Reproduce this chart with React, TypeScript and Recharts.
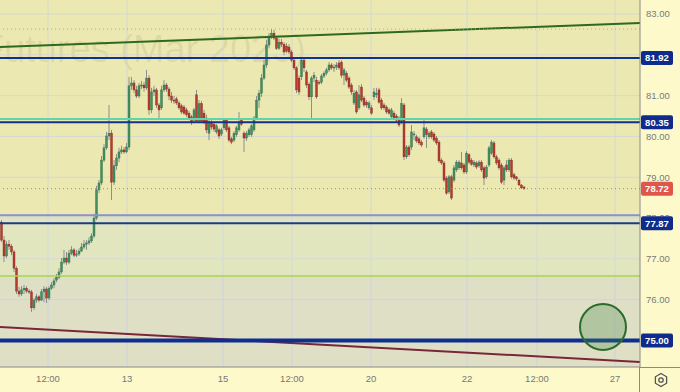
import React from 'react';
import {
  ComposedChart,
  Bar,
  XAxis,
  YAxis,
  CartesianGrid,
  ReferenceLine,
  ReferenceArea,
  ReferenceDot,
} from 'recharts';

// ---- candle data (hourly bars) ----
const opens = [
  77.90, 77.46, 77.07, 77.36, 77.31, 77.17, 76.77, 76.21, 76.14, 76.24,
  76.28, 76.21, 76.19, 75.80, 75.99, 76.07, 75.99, 76.19, 76.26, 76.04,
  76.28, 76.36, 76.48, 76.55, 76.68, 76.92, 77.02, 76.92, 77.14, 77.22,
  77.09, 77.12, 77.19, 77.29, 77.36, 77.39, 77.44, 77.56, 78.00, 78.69,
  78.86, 79.42, 79.72, 80.01, 80.08, 78.88, 79.28, 79.47, 79.62, 79.67,
  79.62, 79.74, 81.24, 81.31, 81.14, 80.99, 81.24, 81.26, 81.19, 81.43,
  80.65, 81.09, 81.14, 80.77, 80.70, 81.14, 81.26, 81.16, 80.99, 80.89,
  80.92, 80.82, 80.75, 80.72, 80.65, 80.57, 80.48, 80.40, 81.02, 80.38,
  80.80, 80.57, 80.45, 80.08, 80.35, 80.30, 80.11, 80.16, 80.06, 80.21,
  80.40, 80.21, 79.94, 79.91, 80.04, 80.16, 80.40, 80.08, 79.96, 80.04,
  80.04, 80.16, 80.45, 80.89, 81.06, 81.43, 81.75, 82.24, 82.44, 82.53,
  82.41, 82.16, 82.31, 82.26, 82.21, 82.19, 82.07, 81.87, 81.68, 81.43,
  81.46, 81.87, 81.58, 81.28, 80.97, 81.43, 81.38, 81.33, 81.33, 81.48,
  81.55, 81.63, 81.75, 81.68, 81.70, 81.80, 81.82, 81.50, 81.55, 81.43,
  81.26, 80.82, 81.09, 80.70, 81.21, 80.94, 80.84, 80.70, 80.70, 80.97,
  81.02, 81.14, 80.89, 80.77, 80.72, 80.65, 80.48, 80.57, 80.50, 80.45,
  80.35, 80.77, 79.50, 79.74, 79.74, 80.04, 79.99, 79.94, 79.86, 79.99,
  80.18, 79.99, 80.11, 80.06, 79.96, 79.86, 79.42, 79.35, 78.98, 78.64,
  79.01, 78.93, 79.18, 79.23, 79.35, 79.30, 79.13, 79.55, 79.42, 79.30,
  79.35, 79.28, 79.37, 79.23, 79.01, 79.30, 79.59, 79.84, 79.50, 79.42,
  79.30, 78.93, 79.30, 79.18, 79.42, 79.06, 79.01, 78.93, 78.81, 78.76,
];
const highs = [
  77.95, 77.56, 77.44, 77.46, 77.36, 77.22, 76.82, 76.31, 76.33, 76.36,
  76.33, 76.26, 76.24, 76.04, 76.14, 76.11, 76.26, 76.33, 76.31, 76.33,
  76.43, 76.53, 76.63, 76.77, 77.02, 77.22, 77.17, 77.22, 77.31, 77.26,
  77.22, 77.26, 77.39, 77.46, 77.46, 77.53, 77.63, 78.10, 78.79, 78.93,
  79.52, 79.81, 80.11, 80.77, 80.16, 79.42, 79.57, 79.72, 79.77, 79.74,
  79.84, 81.46, 81.46, 81.38, 81.24, 81.31, 81.36, 81.33, 81.63, 81.50,
  81.19, 81.24, 81.19, 80.82, 81.24, 81.38, 81.31, 81.21, 81.09, 80.99,
  80.97, 80.87, 80.80, 80.77, 80.70, 80.62, 80.53, 80.70, 81.14, 80.89,
  80.87, 80.65, 80.53, 80.40, 80.40, 80.35, 80.30, 80.21, 80.21, 80.45,
  80.45, 80.26, 79.99, 80.13, 80.26, 80.60, 80.45, 80.13, 80.13, 80.21,
  80.30, 80.50, 80.99, 81.14, 81.53, 81.87, 82.36, 82.53, 82.63, 82.61,
  82.46, 82.39, 82.39, 82.31, 82.29, 82.26, 82.12, 81.94, 81.72, 81.50,
  81.94, 81.92, 81.63, 81.33, 81.48, 81.58, 81.46, 81.38, 81.53, 81.60,
  81.68, 81.82, 81.80, 81.77, 81.82, 81.87, 81.87, 81.68, 81.60, 81.48,
  81.31, 81.14, 81.14, 81.26, 81.28, 80.99, 80.89, 80.87, 80.77, 81.19,
  81.19, 81.19, 80.94, 80.82, 80.77, 80.70, 80.70, 80.62, 80.55, 80.50,
  80.94, 80.82, 79.79, 79.79, 80.28, 80.13, 80.04, 79.99, 79.91, 80.40,
  80.23, 80.13, 80.16, 80.11, 80.01, 79.91, 79.47, 79.40, 79.03, 79.06,
  79.06, 79.30, 79.42, 79.42, 79.62, 79.35, 79.64, 79.59, 79.47, 79.42,
  79.40, 79.42, 79.42, 79.28, 79.30, 79.77, 79.91, 79.89, 79.55, 79.47,
  79.35, 79.28, 79.42, 79.47, 79.47, 79.11, 79.03, 78.96, 78.83, 78.79,
];
const lows = [
  77.41, 76.92, 77.02, 77.22, 77.09, 76.68, 76.14, 76.07, 76.09, 76.14,
  76.16, 76.14, 75.70, 75.75, 75.92, 75.94, 75.97, 75.94, 75.92, 75.99,
  76.24, 76.28, 76.43, 76.50, 76.63, 76.87, 76.85, 76.87, 77.09, 77.04,
  77.04, 77.07, 77.17, 77.24, 77.22, 77.34, 77.39, 77.51, 77.95, 78.61,
  78.81, 79.37, 79.67, 79.91, 78.44, 78.81, 79.18, 79.37, 79.57, 79.57,
  79.59, 79.67, 81.14, 81.06, 80.94, 80.94, 81.16, 81.09, 81.14, 80.53,
  80.57, 80.99, 80.70, 80.40, 80.65, 81.09, 81.09, 80.89, 80.82, 80.80,
  80.77, 80.65, 80.55, 80.53, 80.48, 80.40, 80.28, 80.35, 80.33, 80.33,
  80.33, 80.30, 80.08, 79.91, 80.16, 80.11, 80.06, 79.94, 80.01, 80.16,
  80.11, 79.86, 79.81, 79.86, 79.99, 80.11, 80.26, 79.62, 79.89, 79.99,
  79.99, 80.11, 80.40, 80.70, 80.97, 81.38, 81.68, 82.16, 82.39, 82.36,
  82.12, 82.12, 82.19, 81.99, 82.04, 82.02, 81.82, 81.63, 81.06, 81.02,
  81.38, 81.58, 81.19, 80.89, 80.40, 81.33, 80.92, 81.26, 81.28, 81.43,
  81.50, 81.58, 81.63, 81.58, 81.63, 81.63, 81.43, 81.26, 81.33, 81.16,
  81.02, 80.77, 80.55, 80.65, 80.84, 80.72, 80.70, 80.65, 80.53, 80.89,
  80.94, 80.80, 80.65, 80.65, 80.55, 80.53, 80.43, 80.40, 80.35, 80.23,
  80.30, 79.42, 79.45, 79.50, 79.67, 79.91, 79.84, 79.79, 79.74, 79.94,
  79.72, 79.94, 79.94, 79.86, 79.79, 79.35, 79.30, 78.88, 78.57, 78.59,
  78.44, 78.88, 79.13, 79.18, 79.18, 79.08, 79.08, 79.32, 79.28, 79.25,
  79.20, 79.23, 79.13, 78.81, 78.96, 79.25, 79.55, 79.45, 79.30, 79.18,
  78.83, 78.81, 79.13, 79.13, 78.96, 78.93, 78.91, 78.79, 78.71, 78.69,
];
const closes = [
  77.46, 77.07, 77.36, 77.31, 77.17, 76.77, 76.21, 76.14, 76.24, 76.28,
  76.21, 76.19, 75.80, 75.99, 76.07, 75.99, 76.19, 76.26, 76.04, 76.28,
  76.36, 76.46, 76.55, 76.68, 76.92, 77.02, 76.92, 77.14, 77.22, 77.09,
  77.12, 77.19, 77.29, 77.36, 77.39, 77.44, 77.56, 78.00, 78.69, 78.86,
  79.42, 79.72, 80.01, 80.08, 78.88, 79.28, 79.47, 79.62, 79.67, 79.62,
  79.74, 81.24, 81.31, 81.14, 80.99, 81.24, 81.26, 81.19, 81.43, 80.65,
  81.09, 81.14, 80.77, 80.65, 81.14, 81.26, 81.16, 80.99, 80.89, 80.87,
  80.82, 80.70, 80.60, 80.57, 80.53, 80.45, 80.35, 80.65, 80.38, 80.80,
  80.38, 80.35, 80.16, 80.33, 80.23, 80.18, 80.26, 80.01, 80.16, 80.40,
  80.16, 79.91, 79.86, 80.08, 80.21, 80.35, 80.30, 79.96, 80.08, 80.16,
  80.26, 80.45, 80.89, 81.06, 81.43, 81.75, 82.24, 82.46, 82.53, 82.41,
  82.16, 82.31, 82.26, 82.07, 82.09, 82.07, 81.87, 81.68, 81.14, 81.09,
  81.87, 81.68, 81.26, 80.97, 81.43, 81.50, 80.97, 81.31, 81.48, 81.55,
  81.63, 81.75, 81.68, 81.70, 81.75, 81.68, 81.50, 81.63, 81.38, 81.21,
  81.09, 81.06, 80.60, 81.02, 80.89, 80.77, 80.77, 80.82, 80.57, 81.09,
  81.06, 80.84, 80.70, 80.70, 80.60, 80.57, 80.65, 80.45, 80.40, 80.28,
  80.80, 79.50, 79.74, 79.55, 80.11, 80.06, 79.89, 79.84, 79.79, 80.21,
  80.04, 80.08, 79.99, 79.91, 79.84, 79.40, 79.35, 78.93, 78.61, 79.01,
  78.49, 79.23, 79.37, 79.37, 79.23, 79.13, 79.59, 79.37, 79.32, 79.37,
  79.25, 79.37, 79.18, 78.98, 79.25, 79.72, 79.86, 79.50, 79.35, 79.23,
  78.88, 79.23, 79.18, 79.42, 79.01, 78.98, 78.96, 78.81, 78.74, 78.72,
];

// ---- axes ----
const xSlots = 256; // bar slots visible in the pane
const xTickValues = [19.2, 50.8, 89.2, 116.8, 148.4, 186.8, 214.8, 246];
const xTickLabels = ['12:00', '13', '15', '12:00', '20', '22', '12:00', '27'];
const yTicks = [75, 76, 77, 78, 79, 80, 81, 82, 83];
const yDomain = [74.35, 83.343];

// ---- drawings ----
const levels = [
  { value: 82.63, color: '#b9a88a', width: 1, dash: '1 3' },
  { value: 81.92, color: '#12308f', width: 2 },
  { value: 80.43, color: '#5fd6a6', width: 2 },
  { value: 80.35, color: '#12308f', width: 2 },
  { value: 78.72, color: '#e06a5a', width: 1, dash: '1 3' },
  { value: 78.07, color: '#8c90d2', width: 2 },
  { value: 77.87, color: '#1d3a8a', width: 2 },
  { value: 76.58, color: '#a6d64c', width: 1.5 },
  { value: 75.0, color: '#0f2f8f', width: 4 },
];
const badgeValues = [81.92, 80.35, 78.72, 77.87, 75.0];
const badgeColors = ['#0f2c8c', '#0f2c8c', '#e0574a', '#0f2c8c', '#0f2c8c'];
const greenTrend = [82.19, 82.78];
const maroonTrend = [75.33, 74.47];
const zoneGreen = [76.58, 78.07];
const zoneGrey = [74.35, 76.58];
const circleAt = { x: 241.2, y: 75.33 };

const FONT = "'Liberation Sans', Arial, sans-serif";

// price-scale ticks: plain labels first, then the price badges on top of them
const axisTicks = [...yTicks, ...badgeValues];

const data = opens.map((o, i) => ({
  x: i + 0.5,
  range: [lows[i], highs[i]],
  o,
  h: highs[i],
  l: lows[i],
  c: closes[i],
}));

function Candle(props: any) {
  const { x, y, width, height, payload } = props;
  if (x == null || y == null || !payload) return null;
  const top = Math.min(y, y + height);
  const bot = Math.max(y, y + height);
  const { o, h, l, c } = payload;
  const span = h - l;
  const py = (v: number) => (span > 0 ? top + ((h - v) / span) * (bot - top) : top);
  const cx = x + width / 2;
  const up = c >= o;
  const yO = py(o);
  const yC = py(c);
  const bt = Math.min(yO, yC);
  const bh = Math.max(1, Math.abs(yO - yC));
  return (
    <g>
      <line x1={cx} x2={cx} y1={top} y2={bot} stroke="#8e8e8e" strokeWidth={1} />
      <rect
        x={cx - 1}
        y={bt}
        width={2}
        height={bh}
        fill={up ? '#438f63' : '#b53b2e'}
        stroke={up ? '#2f6e4a' : '#8a2a20'}
        strokeWidth={0.4}
      />
    </g>
  );
}

function PriceTick(props: any) {
  const { x, y, payload, index } = props;
  if (x == null || y == null || !payload) return null;
  const v = payload.value as number;
  const isBadge = index != null ? index >= yTicks.length : false;
  if (!isBadge) {
    return (
      <text
        x={x}
        y={y}
        dy="0.36em"
        textAnchor="start"
        fill="#7a7a7a"
        fontSize={9.5}
        fontFamily={FONT}
      >
        {v.toFixed(2)}
      </text>
    );
  }
  const k = index - yTicks.length;
  const bx = x - 5;
  return (
    <g>
      <rect x={bx} y={y - 7} width={32} height={14} rx={2} fill={badgeColors[k]} />
      <text
        x={bx + 16}
        y={y}
        dy="0.36em"
        textAnchor="middle"
        fill="#ffffff"
        fontSize={9.5}
        fontWeight="bold"
        fontFamily={FONT}
      >
        {v.toFixed(2)}
      </text>
    </g>
  );
}

export default function App() {
  return (
    <div
      style={{
        position: 'absolute',
        left: 0,
        top: 0,
        width: 680,
        height: 392,
        background: '#fdf9cb',
        overflow: 'hidden',
      }}
    >
      {/* pane background + watermark */}
      <svg width={640} height={367} style={{ position: 'absolute', left: 0, top: 0 }}>
        <rect x={0} y={0} width={640} height={367} fill="#ece8b1" />
        <text
          x={306}
          y={62}
          textAnchor="end"
          fontSize={38}
          fontFamily={FONT}
          fill="#000"
          fillOpacity={0.07}
        >
          Brent Futures (Mar 2025)
        </text>
      </svg>
      <div style={{ position: 'absolute', left: 0, top: 0 }}>
        <ComposedChart
          width={680}
          height={392}
          data={data}
          margin={{ top: 0, right: 0, bottom: 0, left: 0 }}
          barCategoryGap={0}
        >
          <ReferenceArea y1={zoneGreen[0]} y2={zoneGreen[1]} fill="#c8e4e6" fillOpacity={0.28} stroke="none" />
          <ReferenceArea y1={zoneGrey[0]} y2={zoneGrey[1]} fill="#bec8ff" fillOpacity={0.28} stroke="none" />
          <CartesianGrid stroke="#d4d8d2" strokeWidth={1} horizontalValues={yTicks} verticalValues={xTickValues} />
          <XAxis
            dataKey="x"
            type="number"
            domain={[0, xSlots]}
            ticks={xTickValues}
            interval={0}
            allowDataOverflow
            tickFormatter={(v: number) => {
              const k = xTickValues.indexOf(v);
              return k >= 0 ? xTickLabels[k] : '';
            }}
            height={25}
            tickLine={false}
            tickSize={0}
            tickMargin={8}
            axisLine={{ stroke: '#8a8a8a' }}
            tick={{ fill: '#777', fontSize: 9.5, fontFamily: FONT }}
          />
          <YAxis
            orientation="right"
            type="number"
            domain={yDomain}
            ticks={axisTicks}
            interval={0}
            allowDataOverflow
            width={40}
            tickLine={false}
            tickSize={0}
            tickMargin={6}
            axisLine={{ stroke: '#8a8a8a' }}
            tick={<PriceTick />}
          />
          <ReferenceLine
            segment={[
              { x: 0, y: greenTrend[0] },
              { x: xSlots, y: greenTrend[1] },
            ]}
            stroke="#2d6a1e"
            strokeWidth={2}
          />
          <ReferenceLine
            segment={[
              { x: 0, y: maroonTrend[0] },
              { x: xSlots, y: maroonTrend[1] },
            ]}
            stroke="#7a2636"
            strokeWidth={2}
          />
          {levels.map((lv) => (
            <ReferenceLine
              key={lv.value}
              y={lv.value}
              stroke={lv.color}
              strokeWidth={lv.width}
              strokeDasharray={lv.dash}
            />
          ))}
          <Bar dataKey="range" shape={Candle} isAnimationActive={false} />
          <ReferenceDot
            x={circleAt.x}
            y={circleAt.y}
            r={23}
            fill="#4c8c4c"
            fillOpacity={0.3}
            stroke="#2b6b2b"
            strokeWidth={2}
          />
        </ComposedChart>
      </div>
      {/* axis separators in the corner */}
      <div style={{ position: 'absolute', left: 640, top: 367, width: 40, height: 1, background: '#8a8a8a' }} />
      <div style={{ position: 'absolute', left: 639, top: 367, width: 1, height: 25, background: '#8a8a8a' }} />
      <svg width={16} height={16} style={{ position: 'absolute', left: 653, top: 372 }}>
        <polygon
          points="8,1.5 13.6,4.75 13.6,11.25 8,14.5 2.4,11.25 2.4,4.75"
          fill="none"
          stroke="#555"
          strokeWidth={1.3}
        />
        <circle cx={8} cy={8} r={2.2} fill="none" stroke="#555" strokeWidth={1.3} />
      </svg>
    </div>
  );
}
